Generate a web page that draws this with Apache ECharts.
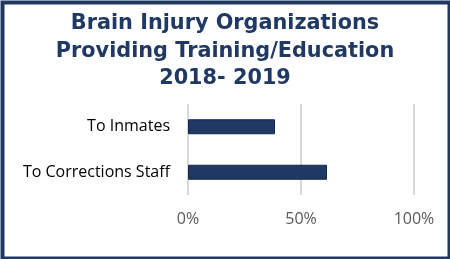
<!DOCTYPE html>
<html><head><meta charset="utf-8">
<script src="https://cdn.jsdelivr.net/npm/echarts@6/dist/echarts.min.js"></script>
<style>html,body{margin:0;padding:0;background:#fff}#c{width:450px;height:259px}</style>
</head><body><div id="c"></div>
<script>
const titleLines = ["Brain Injury Organizations", "Providing Training/Education", "2018- 2019"];
const categories = ["To Corrections Staff", "To Inmates"];
const values = [61.5, 38.5];
const tickLabels = ["0%", "50%", "100%"];

const chart = echarts.init(document.getElementById('c'), null, {renderer: 'canvas'});
chart.setOption({
  animation: false,
  backgroundColor: '#fff',
  title: {
    text: titleLines.join('\n'),
    left: 'center', top: 5,
    textStyle: {fontFamily: 'DejaVu Sans', fontWeight: 'bold', fontSize: 20.8, lineHeight: 27.5, color: '#1F3864'}
  },
  graphic: [{
    type: 'rect', left: 0, top: 0, silent: true,
    shape: {x: 1.5, y: 1.5, width: 447, height: 256},
    style: {fill: 'none', stroke: '#1F3864', lineWidth: 4}
  }],
  grid: {left: 188, right: 36, top: 104, bottom: 64, containLabel: false},
  xAxis: {
    type: 'value', min: 0, max: 100, interval: 50,
    axisLine: {show: false}, axisTick: {show: false},
    splitLine: {lineStyle: {color: '#D9D9D9', width: 2}},
    axisLabel: {
      formatter: v => tickLabels[v / 50], margin: 16,
      color: '#595959', fontFamily: 'Open Sans', fontSize: 16
    }
  },
  yAxis: {
    type: 'category', data: categories,
    axisLine: {show: false}, axisTick: {show: false},
    axisLabel: {color: '#000', fontFamily: 'Open Sans', fontSize: 16, margin: 18}
  },
  series: [{
    type: 'bar', data: values, barWidth: 15,
    itemStyle: {color: '#203864', borderColor: '#16284a', borderWidth: 1}
  }]
});
</script></body></html>
